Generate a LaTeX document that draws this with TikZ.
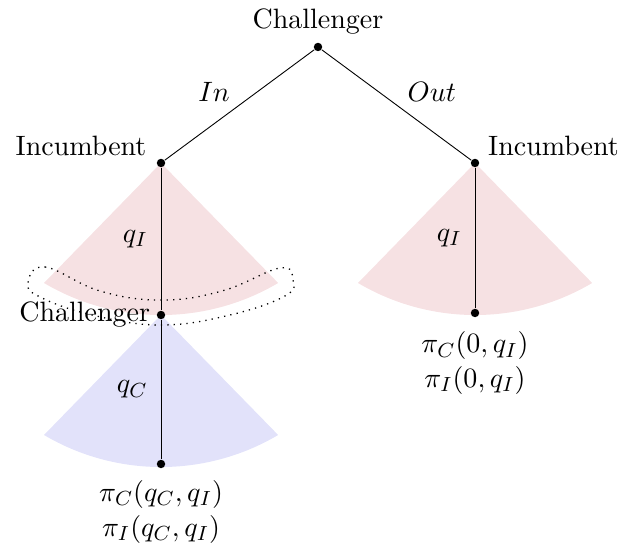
\documentclass[tikz,border=0pt,11pt]{standalone}
\usepackage{amsmath}
\usetikzlibrary{positioning, calc}

\definecolor{fanRed}{RGB}{246,225,227}
\definecolor{fanBlue}{RGB}{226,226,250}

% fan under a move: apex, colour
\newcommand{\moveFan}[2]{%
  \fill[#2] (#1) -- ++(-117,-120) arc[start angle=239.4, end angle=300.6, radius=230] -- cycle;}

\begin{document}
\begin{tikzpicture}[
    x=0.01375cm, y=0.01375cm,
    dot/.style={circle, fill=black, inner sep=0pt, minimum size=3.3pt},
    branch/.style={black, line width=0.35pt},
    player/.style={font=\normalsize},
    payoff/.style={align=center, inner sep=1pt}
]
    \useasboundingbox (0,0) rectangle (626,553);

    % Fans
    \moveFan{161,390}{fanRed}
    \moveFan{475,390}{fanRed}
    \moveFan{161,238}{fanBlue}

    % Nodes
    \node[dot] (root) at (318,506) {};
    \node[dot] (incL) at (161,390) {};
    \node[dot] (incR) at (475,390) {};
    \node[dot] (chalL) at (161,238) {};
    \node[dot] (leafL) at (161,89) {};
    \node[dot] (leafR) at (475,240) {};

    % Players
    \node[player, above=-0.02cm of root] (rootLbl) {Challenger};
    \node[player, above left=-0.08cm and 0.02cm of incL] (incLLbl) {Incumbent};
    \node[player, above right=-0.08cm and 0.0cm of incR] (incRLbl) {Incumbent};
    \node[player, left=-0.05cm of chalL] (chalLLbl) {Challenger};

    % Information set
    \draw[dotted, line width=0.5pt] plot[smooth cycle, tension=0.7] coordinates {
        (28,270) (45,286) (100,262) (161,253) (222,262) (280,285) (293,273)
        (285,257) (230,238) (161,228) (92,238) (40,256)};

    % Branches
    \draw[branch] (root) -- node[above left=-0.08cm and 0.0cm] {$In$} (incL);
    \draw[branch] (root) -- node[above right=-0.08cm and 0.02cm] {$Out$} (incR);
    \draw[branch] (incL) -- node[left=0.05cm] {$q_I$} (chalL);
    \draw[branch] (incR) -- node[left=0.05cm] {$q_I$} (leafR);
    \draw[branch] (chalL) -- node[left=0.05cm] {$q_C$} (leafL);

    % Payoffs
    \node[payoff, below=0.12cm of leafL] (payL) {$\pi_C(q_C,q_I)$\\$\pi_I(q_C,q_I)$};
    \node[payoff, below=0.15cm of leafR] (payR) {$\pi_C(0,q_I)$\\$\pi_I(0,q_I)$};
\end{tikzpicture}
\end{document}
